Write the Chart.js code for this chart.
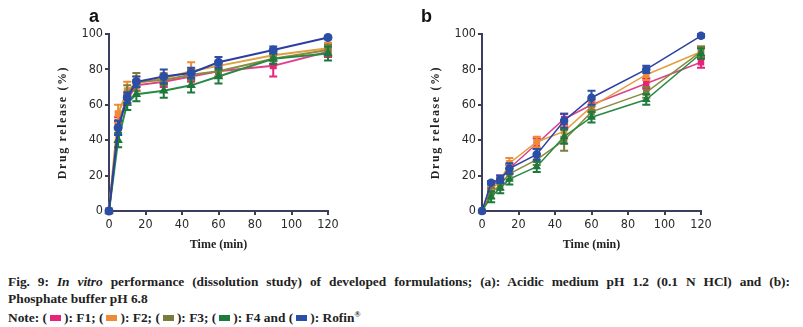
<!DOCTYPE html>
<html>
<head>
<meta charset="utf-8">
<script src="https://cdn.jsdelivr.net/npm/chart.js@4.4.1/dist/chart.umd.min.js"></script>
<style>
  body { margin: 0; background: #fff; width: 803px; height: 327px; position: relative; overflow: hidden; }
  .panel { position: absolute; top: 0; width: 345px; height: 260px; }
  .tag { position: absolute; top: 6px; font: bold 18px "Liberation Sans", Arial, sans-serif; color: #111; }
  .caption { position: absolute; left: 8px; top: 274px; width: 782px; font: bold 13.4px "Liberation Serif", "Times New Roman", serif; line-height: 16.5px; color: #222; }
  .caption .j { text-align: justify; text-align-last: justify; }
  .sw { display: inline-block; width: 11px; height: 6px; vertical-align: 1px; margin: 0 3px; }
</style>
</head>
<body>
<div class="panel" style="left:0"><canvas id="chartA"></canvas></div>
<div class="panel" style="left:373px"><canvas id="chartB"></canvas></div>
<div class="tag" style="left:89px">a</div>
<div class="tag" style="left:421px">b</div>
<div class="caption">
  <div class="j">Fig. 9: <i style="font-weight:bold">In vitro</i> performance (dissolution study) of developed formulations; (a): Acidic medium pH 1.2 (0.1 N HCl) and (b):</div>
  <div>Phosphate buffer pH 6.8</div>
  <div>Note: (<span class="sw" style="background:#e8237c"></span>): F1; (<span class="sw" style="background:#ef8a35"></span>): F2; (<span class="sw" style="background:#7a7c3c"></span>): F3; (<span class="sw" style="background:#1b7a3c"></span>): F4 and (<span class="sw" style="background:#2b4fa6"></span>): Rofin<sup style="font-size:8px">®</sup></div>
</div>
<script>
// sampling times (min)
const times = [0, 5, 10, 15, 30, 45, 60, 90, 120];
const xTicks = [0, 20, 40, 60, 80, 100, 120];
const yTicks = [0, 20, 40, 60, 80, 100];

// (a) acidic medium pH 1.2 — mean release (%) and SD
const acidF1 = [0, 50, 63, 71, 73, 76, 79, 82, 90];
const acidF2 = [0, 55, 68, 72, 75, 79, 82, 88, 92];
const acidF3 = [0, 47, 66, 73, 74, 77, 79, 86, 91];
const acidF4 = [0, 40, 61, 66, 68, 71, 76, 86, 89];
const acidRofin = [0, 47, 64, 73, 76, 78, 84, 91, 98];
const acidF1Sd = [0, 3, 3, 3, 3, 3, 3, 6, 3];
const acidF2Sd = [0, 5, 5, 4, 3, 5, 3, 3, 3];
const acidF3Sd = [0, 4, 5, 5, 3, 3, 3, 3, 3];
const acidF4Sd = [0, 4, 4, 4, 4, 4, 4, 3, 4];
const acidRofinSd = [0, 4, 3, 3, 4, 3, 3, 2, 1];

// (b) phosphate buffer pH 6.8
const bufF1 = [0, 14, 18, 24, 38, 52, 60, 72, 84];
const bufF2 = [0, 12, 17, 27, 39, 45, 59, 77, 90];
const bufF3 = [0, 10, 15, 21, 29, 40, 56, 67, 90];
const bufF4 = [0, 8, 13, 18, 25, 42, 53, 63, 89];
const bufRofin = [0, 16, 18, 24, 32, 51, 64, 80, 99];
const bufF1Sd = [0, 2, 2, 2, 3, 3, 3, 3, 3];
const bufF2Sd = [0, 2, 2, 3, 3, 3, 3, 3, 3];
const bufF3Sd = [0, 3, 3, 3, 3, 6, 3, 3, 3];
const bufF4Sd = [0, 3, 3, 3, 3, 4, 3, 3, 3];
const bufRofinSd = [0, 1, 2, 3, 3, 4, 4, 2, 1];

const formulations = ["F1", "F2", "F3", "F4", "Rofin"];
const colors = ["#e8237c", "#ef8a35", "#7a7c3c", "#1b7a3c", "#2b4fa6"];
const lineColors = ["#e0408a", "#e0a040", "#8a8a40", "#2a8a45", "#2b3fa0"];
const shapes = ["rect", "rect", "rect", "triangle", "circle"];
const axisColor = "#3b3f5c";

// vertical SD bars with caps, drawn right after each line
const errorBars = {
  id: "errorBars",
  afterDatasetDraw(chart, args) {
    const ds = chart.data.datasets[args.index];
    if (!ds.sd) return;
    const { ctx, scales: { y } } = chart;
    ctx.save();
    ctx.strokeStyle = ds.pointBackgroundColor;
    ctx.lineWidth = 2;
    args.meta.data.forEach((pt, i) => {
      const e = ds.sd[i];
      if (!e) return;
      const v = ds.data[i].y;
      const top = y.getPixelForValue(v + e);
      const bot = y.getPixelForValue(v - e);
      ctx.beginPath();
      ctx.moveTo(pt.x, top); ctx.lineTo(pt.x, bot);
      ctx.moveTo(pt.x - 4, top); ctx.lineTo(pt.x + 4, top);
      ctx.moveTo(pt.x - 4, bot); ctx.lineTo(pt.x + 4, bot);
      ctx.stroke();
    });
    ctx.restore();
  }
};

// spaced-out y axis title
const yTitle = {
  id: "yTitle",
  afterDraw(chart) {
    const { ctx, chartArea } = chart;
    ctx.save();
    ctx.translate(chartArea.left - 46, (chartArea.top + chartArea.bottom) / 2);
    ctx.rotate(-Math.PI / 2);
    ctx.font = 'bold 12px "Liberation Serif", "Times New Roman", serif';
    ctx.letterSpacing = "1.6px";
    ctx.fillStyle = "#222";
    ctx.textAlign = "center";
    ctx.textBaseline = "middle";
    ctx.fillText("Drug release (%)", 0, 0);
    ctx.restore();
  }
};

function makeChart(id, series, sds, lineWidth) {
  const datasets = series.map((vals, k) => ({
    label: formulations[k],
    data: times.map((t, i) => ({ x: t, y: vals[i] })),
    sd: sds[k],
    borderColor: lineColors[k],
    borderWidth: lineWidth,
    pointStyle: shapes[k],
    pointRadius: 3.5,
    pointBackgroundColor: colors[k],
    pointBorderColor: colors[k],
    order: 5 - k,
    clip: false
  }));
  const tickFont = { family: '"Liberation Sans Narrow", "DejaVu Sans Condensed", Arial, sans-serif', size: 12.5 };
  new Chart(document.getElementById(id), {
    type: "line",
    data: { datasets },
    plugins: [errorBars, yTitle],
    options: {
      responsive: false,
      animation: false,
      layout: { padding: { left: 39, right: 17, top: 34, bottom: 4 } },
      plugins: { legend: { display: false }, tooltip: { enabled: false } },
      scales: {
        x: {
          type: "linear", min: 0, max: 120,
          afterBuildTicks: (s) => { s.ticks = xTicks.map(v => ({ value: v })); },
          afterFit: (s) => { s.height = 45; },
          grid: { drawOnChartArea: false, tickLength: 4, color: axisColor, lineWidth: 2 },
          border: { color: axisColor, width: 2 },
          ticks: { color: "#2a2a2a", font: tickFont, padding: 2 },
          title: { display: true, text: "Time (min)", color: "#222", padding: { top: 2, bottom: 4 },
                   font: { family: '"Liberation Serif", "Times New Roman", serif', size: 12, weight: "bold" } }
        },
        y: {
          min: 0, max: 100,
          afterBuildTicks: (s) => { s.ticks = yTicks.map(v => ({ value: v })); },
          afterFit: (s) => { s.width = 70; },
          grid: { drawOnChartArea: false, tickLength: 4, color: axisColor, lineWidth: 2 },
          border: { color: axisColor, width: 2 },
          ticks: { color: "#2a2a2a", font: tickFont, padding: 2 }
        }
      }
    }
  });
}

function sizeCanvas(id) {
  const c = document.getElementById(id);
  c.width = 345; c.height = 260;
  c.style.width = "345px"; c.style.height = "260px";
}
sizeCanvas("chartA");
sizeCanvas("chartB");

makeChart("chartA",
  [acidF1, acidF2, acidF3, acidF4, acidRofin],
  [acidF1Sd, acidF2Sd, acidF3Sd, acidF4Sd, acidRofinSd], 2);
makeChart("chartB",
  [bufF1, bufF2, bufF3, bufF4, bufRofin],
  [bufF1Sd, bufF2Sd, bufF3Sd, bufF4Sd, bufRofinSd], 1.5);
</script>
</body>
</html>
